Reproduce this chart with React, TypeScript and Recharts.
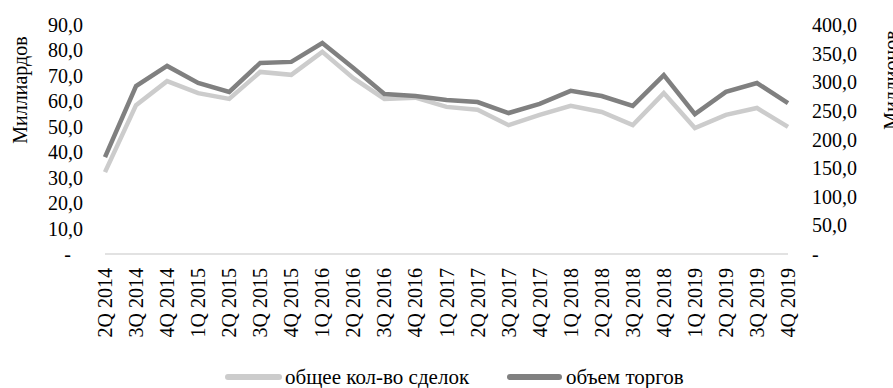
import React from 'react';
import { LineChart, Line, XAxis, YAxis, Customized } from 'recharts';

const quarters = [
  '2Q 2014', '3Q 2014', '4Q 2014', '1Q 2015', '2Q 2015', '3Q 2015', '4Q 2015',
  '1Q 2016', '2Q 2016', '3Q 2016', '4Q 2016', '1Q 2017', '2Q 2017', '3Q 2017',
  '4Q 2017', '1Q 2018', '2Q 2018', '3Q 2018', '4Q 2018', '1Q 2019', '2Q 2019',
  '3Q 2019', '4Q 2019',
];
// Миллионов (right axis)
const dealsCount = [143, 260, 302, 281, 271, 318, 313, 353, 307, 271, 273, 257, 252, 225, 243, 259, 248, 225, 281, 220, 243, 255, 222];
// Миллиардов (left axis)
const tradeVolume = [38.1, 66.0, 73.9, 67.2, 63.7, 75.1, 75.5, 82.9, 73.1, 62.9, 62.1, 60.5, 59.7, 55.4, 59.0, 64.1, 62.1, 58.2, 70.3, 55.0, 63.7, 67.2, 59.3];
const leftTicks = [0, 10, 20, 30, 40, 50, 60, 70, 80, 90];
const rightTicks = [0, 50, 100, 150, 200, 250, 300, 350, 400];
const seriesNames = ['общее кол-во сделок', 'объем торгов'];
const axisTitles = ['Миллиардов', 'Миллионов'];

const data = quarters.map((q, i) => ({ q, deals: dealsCount[i], volume: tradeVolume[i] }));

const FONT = "'Liberation Serif', 'Times New Roman', Times, serif";
const FS = 20;
const LIGHT = '#cccccc';
const DARK = '#808080';
const txt = { fontFamily: FONT, fontSize: FS, fill: '#000' } as React.CSSProperties;
const legendTxt = { fontFamily: FONT, fontSize: 21, fill: '#000' } as React.CSSProperties;

const fmt = (v: number) => v.toFixed(1).replace('.', ',');

const LeftTick = (props: any) => {
  const { x, y, payload } = props;
  const v = payload.value;
  return (
    <text x={v === 0 ? x - 12 : x} y={y} textAnchor="end" dominantBaseline="central" style={txt}>
      {v === 0 ? '-' : fmt(v)}
    </text>
  );
};

const RightTick = (props: any) => {
  const { x, y, payload } = props;
  const v = payload.value;
  return (
    <text x={x} y={y} textAnchor="start" dominantBaseline="central" style={txt}>
      {v === 0 ? '-' : fmt(v)}
    </text>
  );
};

const XTick = (props: any) => {
  const { x, y, payload } = props;
  return (
    <text transform={`translate(${x},${y}) rotate(-90)`} textAnchor="end" dominantBaseline="central" style={txt}>
      {payload.value}
    </text>
  );
};

const Extras = () => (
  <g>
    <text transform="translate(27,90) rotate(-90)" textAnchor="middle" style={txt}>{axisTitles[0]}</text>
    <text transform="translate(898,80) rotate(-90)" textAnchor="middle" style={txt}>{axisTitles[1]}</text>
    <line x1={228} x2={279} y1={377} y2={377} stroke={LIGHT} strokeWidth={6} strokeLinecap="round" />
    <text x={285} y={377} dominantBaseline="central" style={legendTxt}>{seriesNames[0]}</text>
    <line x1={510} x2={559} y1={377} y2={377} stroke={DARK} strokeWidth={6} strokeLinecap="round" />
    <text x={566} y={377} dominantBaseline="central" style={legendTxt}>{seriesNames[1]}</text>
  </g>
);

export default function App() {
  return (
    <div style={{ position: 'absolute', left: 0, top: 0, background: '#fff', fontFamily: FONT }}>
      <LineChart width={893} height={388} data={data} margin={{ top: 25, right: 0, bottom: 0, left: 0 }}>
        <XAxis dataKey="q" interval={0} tickLine={false} tickSize={0} tickMargin={14}
          axisLine={{ stroke: '#d9d9d9', strokeWidth: 1.5 }} height={134} tick={<XTick />} />
        <YAxis yAxisId="left" orientation="left" width={105} domain={[0, 90]} ticks={leftTicks}
          axisLine={false} tickLine={false} tickSize={0} tickMargin={22} tick={<LeftTick />} interval={0} />
        <YAxis yAxisId="right" orientation="right" width={105} domain={[0, 400]} ticks={rightTicks}
          axisLine={false} tickLine={false} tickSize={0} tickMargin={24} tick={<RightTick />} interval={0} />
        <Line yAxisId="right" dataKey="deals" name={seriesNames[0]} stroke={LIGHT} strokeWidth={4.5}
          dot={false} isAnimationActive={false} strokeLinejoin="miter" />
        <Line yAxisId="left" dataKey="volume" name={seriesNames[1]} stroke={DARK} strokeWidth={4.5}
          dot={false} isAnimationActive={false} strokeLinejoin="miter" />
        <Customized component={Extras} />
      </LineChart>
    </div>
  );
}
